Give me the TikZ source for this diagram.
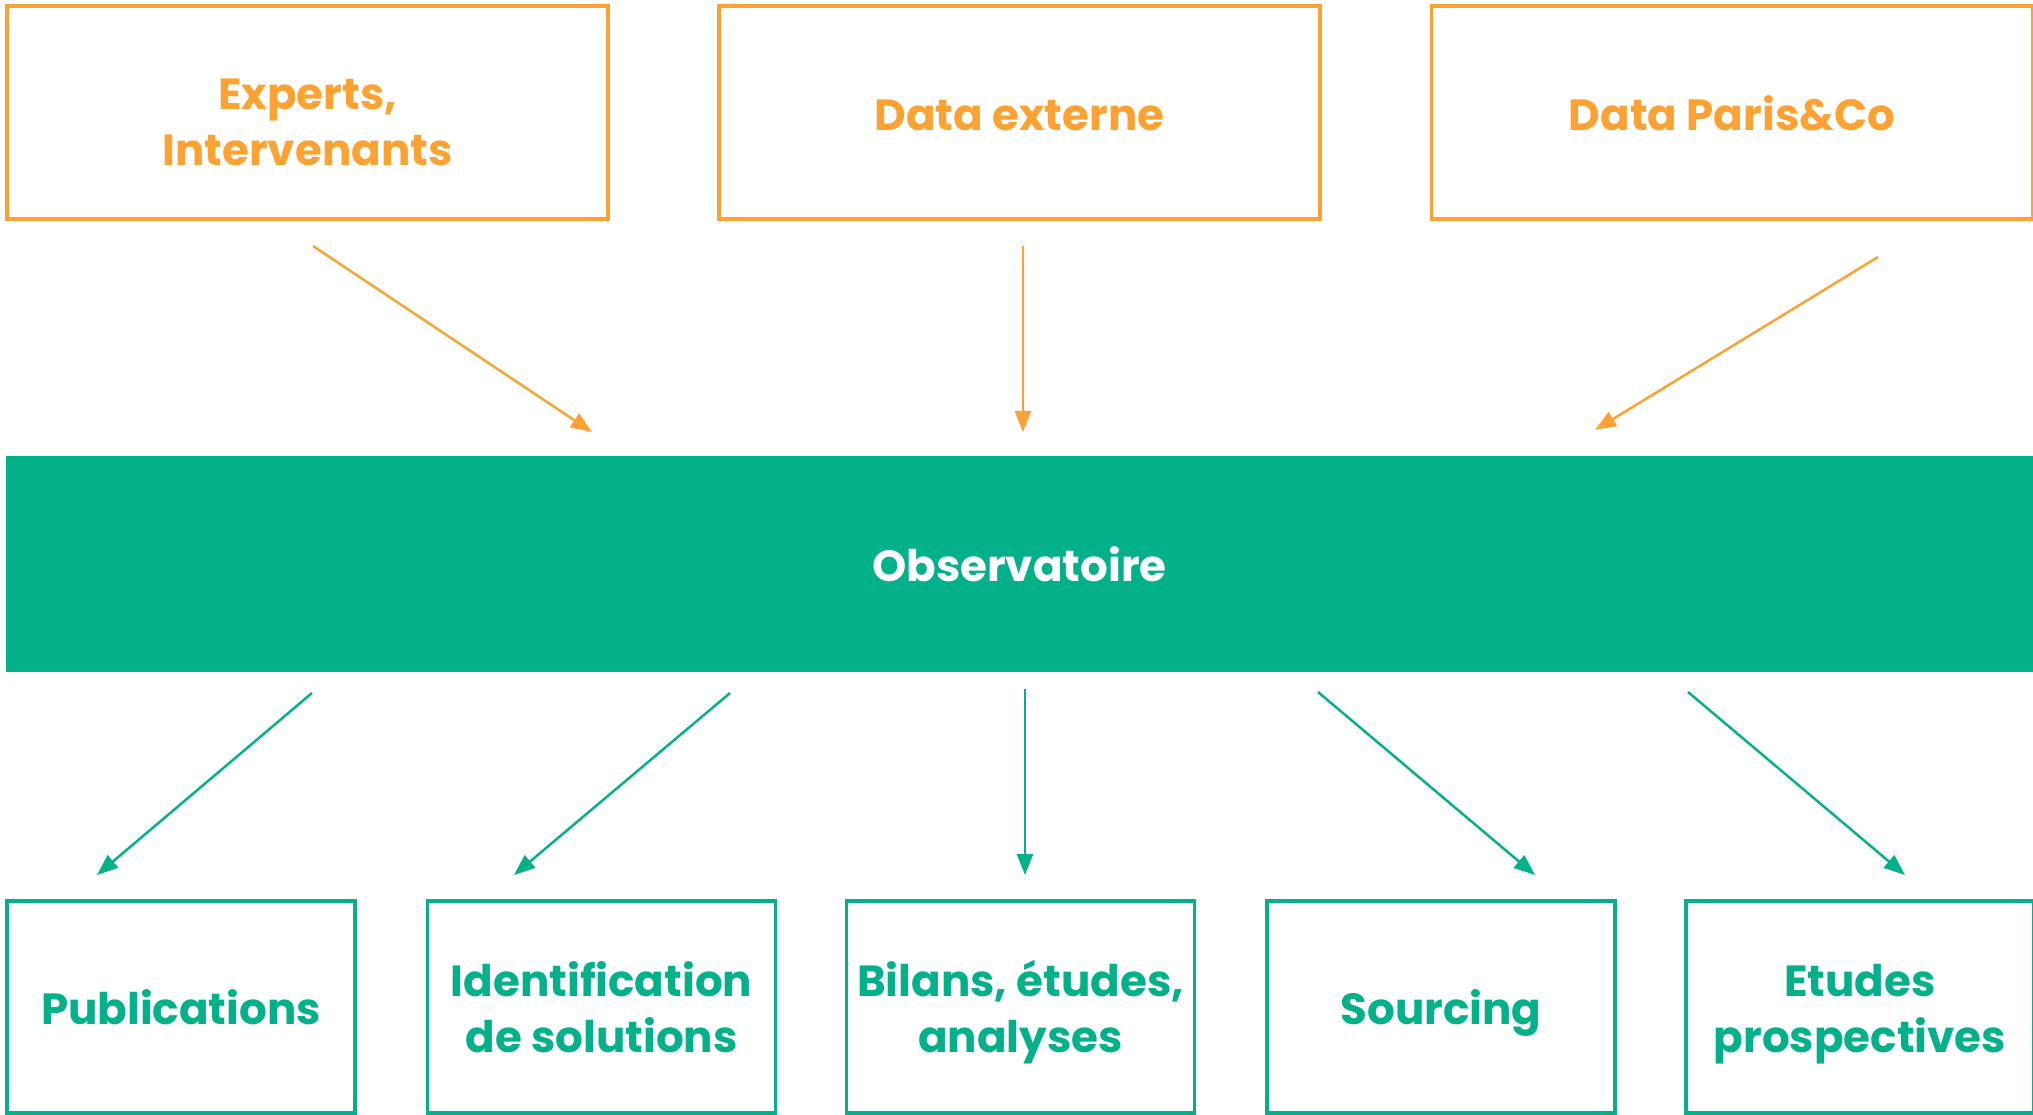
\documentclass[tikz,border=0pt]{standalone}
\usepackage{fontspec}
\setmainfont{Poppins}
\usetikzlibrary{arrows.meta}
\definecolor{orng}{HTML}{FBA232}
\definecolor{grn}{HTML}{02B189}
% first line: smashed, given cap height (+ optional extra) so that the block from cap top to last baseline is centred
\newcommand\fl[2][1.2pt]{\smash{#2}\rule{0pt}{\dimexpr\fontcharht\font`E+#1\relax}}
\tikzset{
  txt/.style={font=\bfseries\fontsize{12.4}{16}\selectfont, align=center, inner sep=0pt, text depth=0pt},
  srcbox/.style={txt, draw=orng, line width=0.9pt, minimum width=601*0.01cm, minimum height=213*0.01cm, text=orng},
  outbox/.style={txt, draw=grn, line width=0.9pt, minimum width=348*0.01cm, minimum height=212*0.01cm, text=grn},
  obsbox/.style={txt, fill=grn, draw=none, minimum width=2027*0.01cm, minimum height=216*0.01cm, text=white},
  oarrow/.style={draw=orng, line width=0.7pt, -{Triangle[length=6pt,width=4.6pt]}},
  garrow/.style={draw=grn, line width=0.7pt, -{Triangle[length=6pt,width=4.6pt]}},
}
\begin{document}
\begin{tikzpicture}[x=0.01cm,y=-0.01cm]
\useasboundingbox (0,0) rectangle (2033,1115);
% top boxes
\node[srcbox] (exp) at (307.5,112.5) {\fl[5.4pt]{Experts,}\\Intervenants};
\node[srcbox] (ext) at (1019.5,112.5) {\fl[1.6pt]{Data externe}};
\node[srcbox] (pco) at (1732,112.5) {\fl[1.6pt]{Data Paris\&Co}};
% observatoire
\node[obsbox] (obs) at (1019.5,564) {\fl{Observatoire}};
% bottom boxes
\node[outbox] (pub) at (181,1007) {\fl{Publications}};
\node[outbox] (ids) at (601.5,1007) {\fl{Identification}\\de solutions};
\node[outbox] (bil) at (1020.5,1007) {\fl{Bilans, études,}\\analyses};
\node[outbox] (src) at (1441,1007) {\fl{Sourcing}};
\node[outbox] (etu) at (1860,1007) {\fl{Etudes}\\prospectives};
% arrow end points
\coordinate (a1s) at (313,246);  \coordinate (a1e) at (592,432);
\coordinate (a2s) at (1023,246); \coordinate (a2e) at (1023,432);
\coordinate (a3s) at (1878,257); \coordinate (a3e) at (1595,430);
\coordinate (b1s) at (312,693);  \coordinate (b1e) at (97,875);
\coordinate (b2s) at (730,693);  \coordinate (b2e) at (514,875);
\coordinate (b3s) at (1025,689); \coordinate (b3e) at (1025,875);
\coordinate (b4s) at (1318,692); \coordinate (b4e) at (1535,875);
\coordinate (b5s) at (1688,692); \coordinate (b5e) at (1905,875);
\draw[oarrow] (a1s) -- (a1e);
\draw[oarrow] (a2s) -- (a2e);
\draw[oarrow] (a3s) -- (a3e);
\draw[garrow] (b1s) -- (b1e);
\draw[garrow] (b2s) -- (b2e);
\draw[garrow] (b3s) -- (b3e);
\draw[garrow] (b4s) -- (b4e);
\draw[garrow] (b5s) -- (b5e);
\end{tikzpicture}
\end{document}
